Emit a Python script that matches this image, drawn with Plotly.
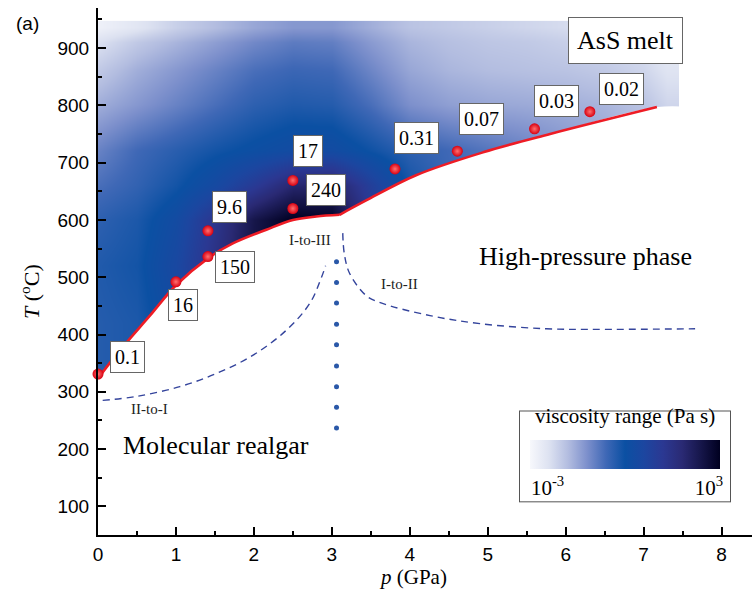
import plotly.graph_objects as go

# ---------------- data ----------------
# viscosity field (log10 Pa s) read on a coarse grid
grid_p = [0.0, 0.5, 1.0, 1.5, 2.0, 2.5, 3.0, 3.5, 4.0, 4.5, 5.0, 5.5, 6.0, 6.5, 7.0, 7.3]
grid_T = [320, 420, 520, 600, 660, 720, 800, 860, 910, 935]
log_visc = [
    [-0.30, -0.20, 0.20, 1.00, 2.00, 2.60, 2.40, 1.20, -0.30, -0.60, -0.80, -1.00, -1.30, -1.50, -1.80, -2.10],
    [-0.30, -0.20, 0.30, 1.20, 2.20, 2.80, 2.60, 1.20, -0.30, -0.60, -0.80, -1.00, -1.30, -1.50, -1.80, -2.10],
    [-0.25, -0.10, 0.50, 1.50, 2.50, 3.00, 2.90, 1.20, -0.30, -0.60, -0.80, -1.00, -1.30, -1.50, -1.80, -2.10],
    [-0.40, -0.20, 0.30, 1.30, 2.40, 3.00, 2.90, 1.20, -0.10, -0.60, -0.80, -1.00, -1.30, -1.50, -1.80, -2.10],
    [-0.70, -0.45, -0.10, 0.40, 1.10, 1.90, 2.00, 0.90, -0.10, -0.55, -0.80, -1.00, -1.30, -1.50, -1.80, -2.10],
    [-1.00, -0.60, -0.35, -0.10, 0.10, 0.30, 0.30, -0.05, -0.40, -0.60, -0.80, -1.00, -1.25, -1.45, -1.75, -2.05],
    [-1.60, -1.30, -1.00, -0.70, -0.40, -0.25, -0.30, -0.70, -1.20, -1.40, -1.50, -1.55, -1.60, -1.70, -1.90, -2.20],
    [-2.00, -1.60, -1.30, -1.00, -0.70, -0.55, -0.60, -1.05, -1.50, -1.70, -1.80, -1.85, -1.90, -2.00, -2.20, -2.45],
    [-2.40, -2.00, -1.70, -1.40, -1.10, -0.90, -0.95, -1.35, -1.70, -1.85, -1.95, -2.00, -2.10, -2.20, -2.35, -2.60],
    [-2.80, -2.50, -2.10, -1.80, -1.50, -1.30, -1.30, -1.60, -1.90, -2.00, -2.10, -2.20, -2.30, -2.40, -2.50, -2.80],
]

# melting curve: low-pressure branch and high-pressure branch
meltA_p = [0.0, 0.15, 0.36, 0.66, 1.0, 1.41, 1.73, 2.16, 2.5, 2.8, 3.1]
meltA_T = [323, 350, 385, 432, 486, 533, 559, 583, 600, 606, 609]
meltB_p = [3.1, 3.44, 4.08, 4.94, 5.8, 7.17]
meltB_T = [609, 634, 678, 718, 750, 797]

# measured viscosity points
pt_p = [0.0, 1.0, 1.41, 1.41, 2.5, 2.5, 3.81, 4.61, 5.6, 6.31]
pt_T = [331, 492, 536, 581, 620, 669, 689, 720, 759, 789]
pt_visc = ["0.1", "16", "150", "9.6", "240", "17", "0.31", "0.07", "0.03", "0.02"]

# phase boundaries
II_I_p = [0.06, 0.5, 1.05, 1.52, 1.99, 2.42, 2.72, 2.87, 2.92]
II_I_T = [285, 292, 309, 332, 364, 408, 455, 501, 520]
I_II_p = [3.14, 3.16, 3.23, 3.44, 3.61, 4.26, 4.90, 5.75, 6.5, 7.66]
I_II_T = [577, 541, 506, 468, 456, 433, 419, 410, 409, 410]
I_III_p = [3.06] * 9
I_III_T = [237, 273, 309, 345, 382, 418, 455, 491, 527]

# label placements (layout, not data)
lab_p = [0.375, 1.09, 1.76, 1.69, 2.92, 2.69, 4.09, 4.92, 5.88, 6.71]
lab_T = [361, 451, 517, 622, 653, 721, 743, 777, 808, 828]

SERIF = "Liberation Serif"
SANS = "Liberation Sans"

colorscale = [
    [0.0, "#f7f8fc"], [0.1, "#dde2f1"], [0.2, "#b3bde0"], [0.3, "#7d90cc"],
    [0.4, "#3f68b6"], [0.5, "#0b50a3"], [0.6, "#1c46a0"], [0.7, "#2b3892"],
    [0.8, "#2a2a74"], [0.9, "#16164a"], [1.0, "#000020"],
]

fig = go.Figure()

fig.add_trace(go.Heatmap(
    x=grid_p, y=grid_T, z=log_visc, zmin=-3, zmax=3, zsmooth="best",
    colorscale=colorscale, hoverinfo="skip",
    colorbar=dict(
        orientation="h", x=0.806, xanchor="center", y=0.235, yanchor="top",
        len=210, lenmode="pixels", thickness=29, thicknessmode="pixels",
        outlinewidth=0, borderwidth=1, bordercolor="#555555", bgcolor="white",
        xpad=10, ypad=5,
        title=dict(text="viscosity range (Pa s)", side="top",
                   font=dict(family=SERIF, size=21, color="black")),
        tickvals=[-2.45, 2.65], ticktext=["10<sup>-3</sup>", "10<sup>3</sup>"],
        ticks="", tickfont=dict(family=SERIF, size=21, color="black"),
    ),
))

# white masks below the melting curve
fig.add_trace(go.Scatter(
    x=meltA_p + [3.3], y=meltA_T + [meltA_T[-1]],
    fill="tozeroy", fillcolor="white", mode="lines", line=dict(width=0, shape="spline"),
    hoverinfo="skip",
))
fig.add_trace(go.Scatter(
    x=meltB_p + [7.6], y=meltB_T + [meltB_T[-1]],
    fill="tozeroy", fillcolor="white", mode="lines", line=dict(width=0, shape="spline"),
    hoverinfo="skip",
))

dash_color = "#34449c"
fig.add_trace(go.Scatter(x=II_I_p, y=II_I_T, mode="lines",
                         line=dict(color=dash_color, width=1.4, dash="7px,5px", shape="spline")))
fig.add_trace(go.Scatter(x=I_II_p, y=I_II_T, mode="lines",
                         line=dict(color=dash_color, width=1.4, dash="7px,5px", shape="spline")))
fig.add_trace(go.Scatter(x=I_III_p, y=I_III_T, mode="markers",
                         marker=dict(color="#2a58a8", size=5)))

for bp, bT in [(meltA_p, meltA_T), (meltB_p, meltB_T)]:
    fig.add_trace(go.Scatter(x=bp, y=bT, mode="lines",
                             line=dict(color="#ee1c25", width=2.6, shape="spline")))

fig.add_trace(go.Scatter(
    x=pt_p, y=pt_T, mode="markers", cliponaxis=False,
    marker=dict(color="#d80010", size=11, line=dict(width=0),
                gradient=dict(type="radial", color="#ff7070")),
))

annotations = []
for p, T, txt in zip(lab_p, lab_T, pt_visc):
    annotations.append(dict(
        x=p, y=T, xref="x", yref="y", text=txt, showarrow=False,
        xanchor="center", yanchor="middle",
        font=dict(family=SERIF, size=20, color="black"),
        bgcolor="white", bordercolor="#666666", borderwidth=1, borderpad=4,
    ))

annotations.append(dict(x=6.77, y=913, xref="x", yref="y", text="AsS melt", showarrow=False,
                        xanchor="center", yanchor="middle",
                        font=dict(family=SERIF, size=26, color="black"),
                        bgcolor="white", bordercolor="#666666", borderwidth=1, borderpad=8))
annotations.append(dict(x=6.25, y=536, xref="x", yref="y", text="High-pressure phase",
                        xanchor="center", yanchor="middle",
                        showarrow=False, font=dict(family=SERIF, size=26, color="black")))
annotations.append(dict(x=1.52, y=207, xref="x", yref="y", text="Molecular realgar",
                        xanchor="center", yanchor="middle",
                        showarrow=False, font=dict(family=SERIF, size=26, color="black")))
for x, y, t in [(2.72, 565, "I-to-III"), (3.87, 488, "I-to-II"), (0.657, 270, "II-to-I")]:
    annotations.append(dict(x=x, y=y, xref="x", yref="y", text=t, showarrow=False,
                            xanchor="center", yanchor="middle",
                            font=dict(family=SERIF, size=15, color="#222222")))

# axis titles and panel label
annotations.append(dict(x=0.482, y=-0.079, xref="paper", yref="paper",
                        xanchor="center", yanchor="middle",
                        text="<i>p</i> (GPa)", showarrow=False,
                        font=dict(family=SERIF, size=21, color="black")))
annotations.append(dict(x=-0.104, y=0.463, xref="paper", yref="paper",
                        xanchor="center", yanchor="middle",
                        text="<i>T</i> (<sup>o</sup>C)", textangle=-90, showarrow=False,
                        font=dict(family=SERIF, size=22, color="black")))
annotations.append(dict(x=-0.1078, y=0.9715, xref="paper", yref="paper",
                        xanchor="center", yanchor="middle",
                        text="(a)", showarrow=False,
                        font=dict(family=SANS, size=19, color="black")))

axis_common = dict(
    showline=True, linecolor="black", linewidth=2, mirror=False,
    ticks="inside", ticklen=8, tickwidth=1.5, tickcolor="black",
    showgrid=False, zeroline=False,
    tickfont=dict(family=SANS, size=19, color="black"),
)

fig.update_layout(
    width=752, height=594,
    margin=dict(l=98, r=0, t=8, b=59),
    plot_bgcolor="white", paper_bgcolor="white",
    showlegend=False,
    annotations=annotations,
    xaxis=dict(range=[0, 8.39], tick0=0, dtick=1, ticklabelstandoff=1,
               minor=dict(dtick=0.5, ticks="inside", ticklen=4, tickwidth=1.5, tickcolor="black"),
               **axis_common),
    yaxis=dict(range=[50, 970], ticklabelstandoff=3,
               tickvals=[100, 200, 300, 400, 500, 600, 700, 800, 900],
               minor=dict(dtick=50, tick0=50, ticks="inside", ticklen=4, tickwidth=1.5, tickcolor="black"),
               **axis_common),
)

fig.write_html("out.html")
